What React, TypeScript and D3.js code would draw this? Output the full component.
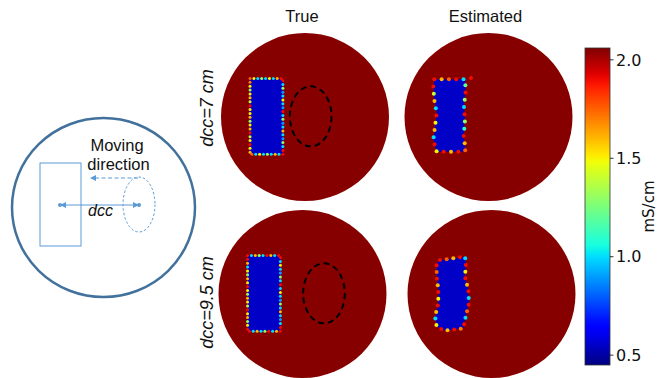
import React from "react";
import * as d3 from "d3";

// ---- data (conductivity in mS/cm, geometry in cm) ----
const DISK_RADIUS = 13.3;
const BACKGROUND_VALUE = 2.05;
const INCLUSION_VALUE = 0.55;
const VMIN = 0.45;
const VMAX = 2.06;
const colorTicks = [0.5, 1.0, 1.5, 2.0];

const columnTitles = ["True", "Estimated"];
const rowLabels = ["dcc=7 cm", "dcc=9.5 cm"];
const dccValues = [7, 9.5];

// rectangular inclusion: x0, x1, y0, y1
const trueRect = [-8.7, -3.5, -6.1, 5.9];
// moving target ellipse semi-axes
const targetRadii = [3.3, 4.75];

// interpolated values on the inclusion boundary (clockwise from top-left)
const trueEdgeValues7 = [
  1.75, 1.5, 1.0, 1.3, 1.0, 1.5, 1.0, 1.6, 1.9,
  1.9, 1.0, 1.3, 0.9, 1.0, 1.5, 1.0, 0.9, 1.9, 1.0, 1.3, 0.9, 1.0, 1.6, 1.0, 0.9, 1.3, 1.0, 1.9,
  1.9, 1.0, 1.6, 1.0, 1.3, 1.0, 1.5, 1.0, 1.75,
  1.6, 1.5, 1.9, 1.5, 1.4, 1.9, 1.6, 1.5, 1.3, 1.6, 1.5, 1.5, 1.9, 1.4, 1.6, 1.5, 1.3, 1.5, 1.7,
];
const trueEdgeValues95 = [
  1.9, 1.0, 1.6, 1.3, 1.0, 1.9, 1.6, 1.0, 1.9,
  1.9, 1.0, 1.5, 1.0, 0.9, 1.3, 1.0, 1.9, 1.0, 1.5, 1.0, 0.9, 1.3, 1.0, 1.6, 1.0, 0.9, 1.0, 1.9,
  1.9, 1.6, 1.0, 1.9, 1.3, 1.0, 1.6, 1.0, 1.9,
  1.9, 1.5, 1.3, 1.6, 1.5, 1.9, 1.4, 1.5, 1.6, 1.3, 1.5, 1.9, 1.5, 1.6, 1.3, 1.5, 1.0, 1.6, 1.9,
];

// reconstructed inclusion outlines [x, y]
const estShape7: [number, number][] = [
  [-8.58, -5.97], [-3.72, -5.97], [-3.61, -4.27], [-3.88, -1.63], [-3.72, 0.47],
  [-3.93, 3.12], [-3.61, 5.22], [-3.99, 5.49], [-8.2, 5.49], [-8.74, 3.64],
  [-8.47, 1.54], [-8.2, -0.59], [-8.58, -2.69], [-8.74, -4.8],
];
const estShape95: [number, number][] = [
  [-8.15, -5.38], [-4.2, -5.91], [-4.04, -4.86], [-4.2, -2.74], [-3.67, -0.63],
  [-3.56, 1.47], [-4.09, 3.59], [-4.46, 5.43], [-7.36, 5.81], [-8.68, 5.18],
  [-8.94, 3.59], [-8.42, 1.47], [-8.42, -0.63], [-8.68, -2.74], [-8.68, -4.86],
];
const estEdgeValues7 = [
  1.9, 1.6, 1.75, 1.9, 1.0, 1.2, 1.9, 1.3, 1.0, 1.9, 1.3, 1.1, 1.9, 1.6,
  1.75, 1.9, 1.6, 1.9, 1.5, 1.9, 1.0, 1.6, 1.5, 1.9, 1.0, 1.6, 1.4, 1.9,
];
const estEdgeValues95 = [
  1.9, 1.75, 1.6, 1.9, 1.0, 1.9, 1.5, 1.9, 1.6, 1.9, 1.0, 1.9, 1.75, 1.0,
  1.9, 1.7, 1.9, 1.6, 1.9, 1.5, 1.0, 1.6, 1.9, 1.5, 1.9, 1.6, 1.9, 1.75, 1.9,
];
const estStrayPoints7: [number, number, number][] = [[-2.77, -6.17, 1.9]];
const estStrayPoints95: [number, number, number][] = [];

// ---- matplotlib "jet" colormap ----
type Knot = [number, number];
const jetR: Knot[] = [[0, 0], [0.35, 0], [0.66, 1], [0.89, 1], [1, 0.5]];
const jetG: Knot[] = [[0, 0], [0.125, 0], [0.375, 1], [0.64, 1], [0.91, 0], [1, 0]];
const jetB: Knot[] = [[0, 0.5], [0.11, 1], [0.34, 1], [0.65, 0], [1, 0]];
function lerpKnots(k: Knot[], t: number) {
  for (let i = 1; i < k.length; i++) {
    if (t <= k[i][0]) {
      const [x0, y0] = k[i - 1];
      const [x1, y1] = k[i];
      return y0 + ((y1 - y0) * (t - x0)) / (x1 - x0);
    }
  }
  return k[k.length - 1][1];
}
function jet(t: number) {
  const u = Math.max(0, Math.min(1, t));
  return d3.rgb(lerpKnots(jetR, u) * 255, lerpKnots(jetG, u) * 255, lerpKnots(jetB, u) * 255).formatHex();
}
const norm = d3.scaleLinear().domain([VMIN, VMAX]).range([0, 1]).clamp(true);
const color = (v: number) => jet(norm(v));

// evenly spaced points along a closed polygon
function pointsAlong(poly: [number, number][], n: number): [number, number][] {
  const segs: number[] = [];
  let total = 0;
  for (let i = 0; i < poly.length; i++) {
    const a = poly[i], b = poly[(i + 1) % poly.length];
    const l = Math.hypot(b[0] - a[0], b[1] - a[1]);
    segs.push(l);
    total += l;
  }
  const out: [number, number][] = [];
  for (let k = 0; k < n; k++) {
    let d = (k / n) * total;
    let i = 0;
    while (d > segs[i] && i < segs.length - 1) { d -= segs[i]; i++; }
    const a = poly[i], b = poly[(i + 1) % poly.length];
    const f = segs[i] ? d / segs[i] : 0;
    out.push([a[0] + (b[0] - a[0]) * f, a[1] + (b[1] - a[1]) * f]);
  }
  return out;
}

const rectPoly = (r: number[]): [number, number][] => [
  [r[0], r[2]], [r[1], r[2]], [r[1], r[3]], [r[0], r[3]],
];

const PANEL_R = 84;
const panels = [
  { cx: 305, cy: 117, kind: "true", row: 0 },
  { cx: 488.5, cy: 117, kind: "est", row: 0 },
  { cx: 302.5, cy: 294, kind: "true", row: 1 },
  { cx: 491.5, cy: 294, kind: "est", row: 1 },
];

function Panel({ cx, cy, kind, row }: { cx: number; cy: number; kind: string; row: number }) {
  const x = d3.scaleLinear().domain([-DISK_RADIUS, DISK_RADIUS]).range([cx - PANEL_R, cx + PANEL_R]);
  const y = d3.scaleLinear().domain([-DISK_RADIUS, DISK_RADIUS]).range([cy - PANEL_R, cy + PANEL_R]);
  const line = d3.line<[number, number]>().x((d) => x(d[0])).y((d) => y(d[1])).curve(d3.curveLinearClosed);
  const isTrue = kind === "true";
  const shape = isTrue ? rectPoly(trueRect) : row === 0 ? estShape7 : estShape95;
  const edgeVals = isTrue
    ? row === 0 ? trueEdgeValues7 : trueEdgeValues95
    : row === 0 ? estEdgeValues7 : estEdgeValues95;
  const strays = isTrue ? [] : row === 0 ? estStrayPoints7 : estStrayPoints95;
  const pts = pointsAlong(shape, edgeVals.length);
  const dotR = isTrue ? 1.5 : 2.0;
  const targetCx = (trueRect[0] + trueRect[1]) / 2 + dccValues[row];
  const targetCy = (trueRect[2] + trueRect[3]) / 2;
  return (
    <g>
      <circle cx={x(0)} cy={y(0)} r={x(DISK_RADIUS) - x(0)} fill={color(BACKGROUND_VALUE)} filter="url(#soft)" />
      <g filter="url(#soft)">
        <path d={line(shape) ?? ""} fill={color(INCLUSION_VALUE)} />
        {pts.map((p, i) => (
          <circle key={i} cx={x(p[0])} cy={y(p[1])} r={dotR} fill={color(edgeVals[i])} />
        ))}
        {strays.map((p, i) => (
          <circle key={"s" + i} cx={x(p[0])} cy={y(p[1])} r={dotR} fill={color(p[2])} />
        ))}
      </g>
      {isTrue && (
        <ellipse
          cx={x(targetCx)}
          cy={y(targetCy)}
          rx={x(targetRadii[0]) - x(0)}
          ry={y(targetRadii[1]) - y(0)}
          fill="none"
          stroke="#000"
          strokeWidth={2}
          strokeDasharray="6,4"
        />
      )}
    </g>
  );
}

function Colorbar() {
  const x0 = 585, w = 25;
  const yScale = d3.scaleLinear().domain([VMIN, VMAX]).range([365, 48]);
  const stops = d3.range(0, 1.0001, 0.02);
  return (
    <g>
      <defs>
        <linearGradient id="jetGrad" x1="0" y1="1" x2="0" y2="0">
          {stops.map((s, i) => (
            <stop key={i} offset={s} stopColor={jet(s)} />
          ))}
        </linearGradient>
      </defs>
      <rect x={x0} y={yScale(VMAX)} width={w} height={yScale(VMIN) - yScale(VMAX)} fill="url(#jetGrad)" stroke="#333" strokeWidth={0.8} />
      {colorTicks.map((t) => (
        <g key={t} transform={`translate(${x0 + w},${yScale(t)})`}>
          <line x1={0} x2={3.5} stroke="#000" strokeWidth={0.8} />
          <text x={6} dy="0.36em" fontFamily="DejaVu Sans" fontSize={16} fill="#111">
            {d3.format(".1f")(t)}
          </text>
        </g>
      ))}
      <text
        transform={`translate(654,${(yScale(VMAX) + yScale(VMIN)) / 2}) rotate(-90)`}
        textAnchor="middle"
        fontFamily="DejaVu Sans"
        fontSize={15}
        fill="#111"
      >
        mS/cm
      </text>
    </g>
  );
}

function Schematic() {
  const blue = "#5b9bd5";
  return (
    <g>
      <defs>
        <marker id="tri" viewBox="0 0 10 10" refX="5" refY="5" markerWidth="6" markerHeight="6" orient="auto-start-reverse">
          <path d="M0,0 L10,5 L0,10 z" fill={blue} />
        </marker>
      </defs>
      <ellipse cx={103.5} cy={207.5} rx={91.5} ry={89.5} fill="none" stroke="#41719c" strokeWidth={2.5} />
      <rect x={40} y={163} width={41} height={83} fill="none" stroke={blue} strokeWidth={1} />
      <ellipse cx={139} cy={204.5} rx={16} ry={27.5} fill="none" stroke={blue} strokeWidth={1} strokeDasharray="2.5,2" />
      <line x1={138} y1={178} x2={93} y2={178} stroke={blue} strokeWidth={1} strokeDasharray="4,2.5" markerEnd="url(#tri)" />
      <line x1={63} y1={205} x2={136} y2={205} stroke={blue} strokeWidth={1} markerStart="url(#tri)" markerEnd="url(#tri)" />
      <circle cx={60} cy={205} r={2} fill={blue} />
      <circle cx={139} cy={205} r={2} fill={blue} />
      <text x={117} y={151} textAnchor="middle" fontFamily="Liberation Sans, Arial" fontSize={16.5} fill="#111">Moving</text>
      <text x={118.5} y={170} textAnchor="middle" fontFamily="Liberation Sans, Arial" fontSize={16.5} fill="#111">direction</text>
      <text x={100.5} y={216} textAnchor="middle" fontFamily="Liberation Sans, Arial" fontStyle="italic" fontSize={16} fill="#111">dcc</text>
    </g>
  );
}

export default function App() {
  const titleX = [302, 485.5];
  const labelY = [108, 302.5];
  return (
    <svg width={662} height={378} style={{ position: "absolute", left: 0, top: 0, background: "#fff" }}>
      <defs>
        <filter id="soft" x="-10%" y="-10%" width="120%" height="120%">
          <feGaussianBlur stdDeviation="0.6" />
        </filter>
      </defs>
      <Schematic />
      {panels.map((p, i) => (
        <Panel key={i} {...p} />
      ))}
      {columnTitles.map((t, i) => (
        <text key={t} x={titleX[i]} y={22} textAnchor="middle" fontFamily="Liberation Sans, Arial" fontSize={16.5} fill="#111">
          {t}
        </text>
      ))}
      {rowLabels.map((t, i) => (
        <text
          key={t}
          transform={`translate(213,${labelY[i]}) rotate(-90)`}
          textAnchor="middle"
          fontFamily="Liberation Sans, Arial"
          fontStyle="italic"
          fontSize={18}
          fill="#111"
        >
          {t}
        </text>
      ))}
      <Colorbar />
    </svg>
  );
}
